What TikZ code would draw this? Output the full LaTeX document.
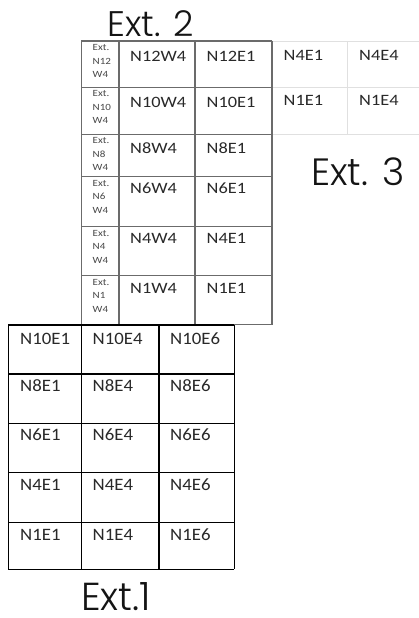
\documentclass[tikz,border=0pt]{standalone}
\usepackage{fontspec}
\newfontfamily\cellfontA[FakeStretch=1.16]{Carlito}
\newfontfamily\cellfontB[FakeStretch=1.08]{Carlito}
\newfontfamily\headfont{Poppins Light}
\begin{document}
\begin{tikzpicture}[x=1pt,y=-1pt,
  gridtwo/.style={draw=black!58,line width=1.4pt},
  gridone/.style={draw=black,line width=1.2pt},
  gridthree/.style={draw=black!12,line width=1pt},
  celltwo/.style={anchor=base west,inner sep=0pt,text=black!84,font=\cellfontA\fontsize{15.8}{16}\selectfont},
  cellone/.style={anchor=base west,inner sep=0pt,text=black!84,font=\cellfontB\fontsize{17.4}{18}\selectfont},
  tiny/.style={anchor=base west,inner sep=0pt,text=black!72,font=\cellfontA\fontsize{9.5}{10}\selectfont},
  heading/.style={anchor=base west,inner sep=0pt,text depth=0pt,text=black!92,font=\headfont}]
\useasboundingbox (0,0) rectangle (419,618);
\fill[white] (0,0) rectangle (419,618);

% Ext. 3 grid (light)
\draw[gridthree] (272,41.7) -- (419,41.7);
\draw[gridthree] (272,87.3) -- (419,87.3);
\draw[gridthree] (272,134) -- (419,134);
\draw[gridthree] (347.7,41.7) -- (347.7,134);

% Ext. 2 grid
\foreach \y in {41,87.3,134.3,176.7,226.7,275.7,324.5}
  \draw[gridtwo] (81.3,\y) -- (272,\y);
\foreach \x in {81.3,119,195,272}
  \draw[gridtwo] (\x,41) -- (\x,324.5);

% Ext. 1 grid
\foreach \y in {325,374,423.3,472.3,522.3,569.3}
  \draw[gridone] (8.3,\y) -- (234.3,\y);
\foreach \x in {8.3,81.7,159,234.3}
  \draw[gridone] (\x,325) -- (\x,569.3);

% headings
\node[heading,font=\headfont\fontsize{35.5}{36}\selectfont] (h2) at (107,36.7) {Ext. 2};
\node[heading,font=\headfont\fontsize{38}{40}\selectfont] (h3) at (311,185) {Ext. 3};
\node[heading,font=\headfont\fontsize{39}{41}\selectfont] (h1) at (81,610.5) {Ext.1};

% Ext. 2 small labels
\foreach \r/\t/\n in {41/N12/a,87.3/N10/b,134.3/N8/c,176.7/N6/d,226.7/N4/e,275.7/N1/f}{
  \node[tiny] (s1\n) at (92.5,\r+9.5) {Ext.};
  \node[tiny] (s2\n) at (92.5,\r+23) {\t};
  \node[tiny] (s3\n) at (92.5,\r+36.5) {W4};
}

% Ext. 2 cells
\node[celltwo] (w12) at (130,61.3) {N12W4};
\node[celltwo] (e12) at (206.5,61.3) {N12E1};
\node[celltwo] (w10) at (130,107) {N10W4};
\node[celltwo] (e10) at (206.5,107) {N10E1};
\node[celltwo] (w8) at (130,153.6) {N8W4};
\node[celltwo] (e8) at (206.5,153.6) {N8E1};
\node[celltwo] (w6) at (130,193.5) {N6W4};
\node[celltwo] (e6) at (206.5,193.5) {N6E1};
\node[celltwo] (w4) at (130,243.6) {N4W4};
\node[celltwo] (e4) at (206.5,243.6) {N4E1};
\node[celltwo] (w1) at (130,293) {N1W4};
\node[celltwo] (e1) at (206.5,293) {N1E1};

% Ext. 3 cells
\node[celltwo] (t4a) at (283.5,60.7) {N4E1};
\node[celltwo] (t4b) at (359,60.7) {N4E4};
\node[celltwo] (t1a) at (283.5,105.3) {N1E1};
\node[celltwo] (t1b) at (359,105.3) {N1E4};

% Ext. 1 cells
\foreach \r/\b/\n in {N10/344.3/a,N8/391/b,N6/440.3/c,N4/490.3/d,N1/540.3/e}{
  \node[cellone] (o1\n) at (20,\b) {\r E1};
  \node[cellone] (o4\n) at (92.5,\b) {\r E4};
  \node[cellone] (o6\n) at (170,\b) {\r E6};
}
\end{tikzpicture}
\end{document}
